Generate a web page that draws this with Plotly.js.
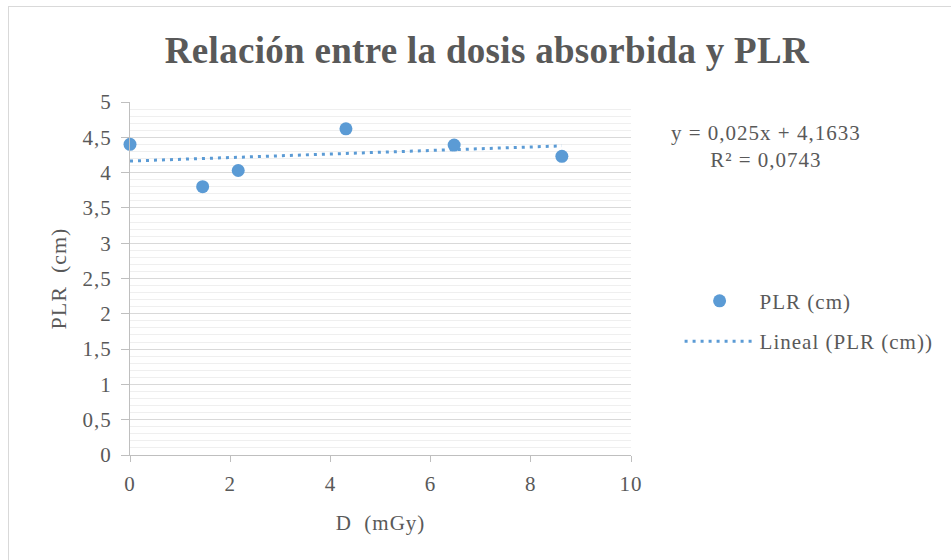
<!DOCTYPE html>
<html>
<head>
<meta charset="utf-8">
<script src="https://cdn.plot.ly/plotly-3.0.1.min.js"></script>
<style>
  html, body { margin: 0; padding: 0; background: #ffffff; }
  #wrap { position: relative; width: 951px; height: 560px; overflow: hidden; }
  #chart { width: 951px; height: 560px; }
  #frame { position: absolute; left: 8px; top: 6px; width: 960px; height: 570px; border: 1px solid #d9d9d9; box-sizing: border-box; pointer-events: none; }
  text { letter-spacing: 1px; }
  text.gtitle { letter-spacing: 0.3px; }
</style>
</head>
<body>
<div id="wrap">
  <div id="chart"></div>
  <div id="frame"></div>
</div>
<script>
// Data
const doseMGy = [0, 1.45, 2.16, 4.31, 6.47, 8.62];
const plrCm   = [4.40, 3.80, 4.03, 4.62, 4.39, 4.23];
// Trendline coefficients as printed on the chart
const trendSlope = 0.025;
const trendIntercept = 4.1633;
const trendLabel = "y = 0,025x + 4,1633<br>R² = 0,0743";
const xTickVals = [0, 2, 4, 6, 8, 10];
const yTickVals = [0, 0.5, 1, 1.5, 2, 2.5, 3, 3.5, 4, 4.5, 5];
const yTickText = ["0", "0,5", "1", "1,5", "2", "2,5", "3", "3,5", "4", "4,5", "5"];

const trendX = [Math.min(...doseMGy), Math.max(...doseMGy)];
const trendY = trendX.map(x => trendSlope * x + trendIntercept);

const blue = "#5b9bd5";
const txt = "#595959";
const serif = "Liberation Serif";

const traces = [
  {
    type: "scatter", mode: "markers", name: "PLR (cm)",
    x: doseMGy, y: plrCm, legendgroup: "a",
    marker: { color: blue, size: 13 },
    cliponaxis: false
  },
  {
    type: "scatter", mode: "lines", name: "Lineal (PLR (cm))",
    x: trendX, y: trendY, legendgroup: "b",
    line: { color: blue, width: 3, dash: "3px,5px" }
  }
];

const layout = {
  width: 951, height: 560,
  margin: { l: 130, r: 320, t: 102, b: 105 },
  paper_bgcolor: "#ffffff", plot_bgcolor: "#ffffff",
  font: { family: serif, color: txt, size: 21 },
  title: {
    text: "<b>Relación entre la dosis absorbida y PLR</b>",
    font: { family: serif, size: 37, color: txt },
    x: 0.512, xanchor: "center", y: 0.91, yanchor: "middle"
  },
  xaxis: {
    range: [0, 10], tickvals: xTickVals, ticktext: xTickVals.map(String),
    showgrid: false, zeroline: false,
    showline: true, linecolor: "#bfbfbf", linewidth: 1,
    ticks: "outside", ticklen: 6, tickcolor: "#bfbfbf", ticklabelstandoff: 4,
    tickfont: { family: serif, size: 21, color: txt },
    title: { text: "D  (mGy)", font: { family: serif, size: 21, color: txt }, standoff: 20 }
  },
  yaxis: {
    range: [0, 5], tickvals: yTickVals, ticktext: yTickText,
    showgrid: true, gridcolor: "#d9d9d9", gridwidth: 1,
    minor: { dtick: 0.1, showgrid: true, gridcolor: "#efefef", gridwidth: 1, ticks: "" },
    zeroline: false,
    showline: true, linecolor: "#bfbfbf", linewidth: 1,
    ticks: "outside", ticklen: 8, tickcolor: "#bfbfbf", ticklabelstandoff: 5,
    tickfont: { family: serif, size: 21, color: txt },
    title: { text: "PLR  (cm)", font: { family: serif, size: 22, color: txt }, standoff: 9 }
  },
  showlegend: true,
  legend: {
    x: 1.097, xanchor: "left", y: 0.379, yanchor: "middle",
    font: { family: serif, size: 21, color: txt },
    traceorder: "grouped", itemwidth: 70, tracegroupgap: 10,
    bgcolor: "rgba(0,0,0,0)"
  },
  annotations: [
    {
      xref: "paper", yref: "paper", x: 1.27, y: 0.875,
      xanchor: "center", yanchor: "middle", align: "center",
      text: trendLabel, showarrow: false,
      font: { family: serif, size: 21, color: txt }
    }
  ]
};

Plotly.newPlot("chart", traces, layout, { displayModeBar: false, staticPlot: true });
</script>
</body>
</html>
